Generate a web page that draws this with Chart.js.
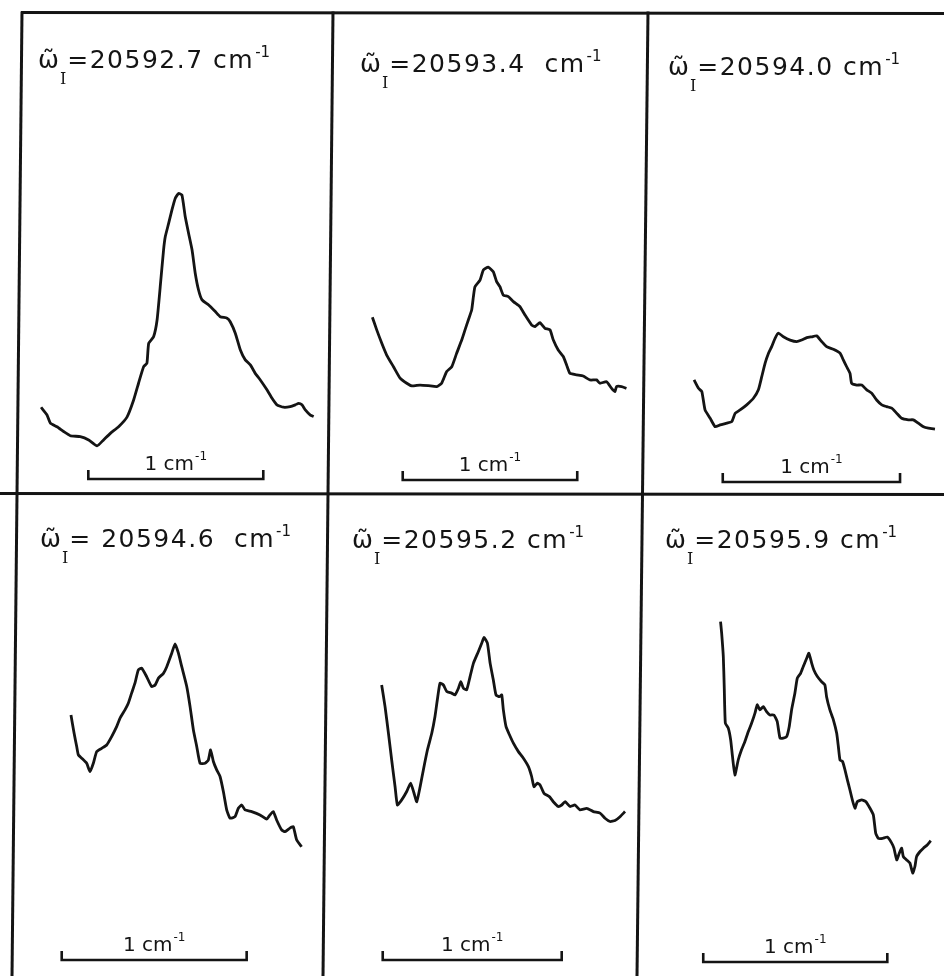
<!DOCTYPE html>
<html>
<head>
<meta charset="utf-8">
<script src="https://cdn.jsdelivr.net/npm/chart.js@4.4.1/dist/chart.umd.min.js"></script>
<style>
  body { margin: 0; background: #fff; }
  #page { position: relative; width: 944px; height: 976px; overflow: hidden; background: #fff; }
  .panel { position: absolute; }
  .rule { position: absolute; background: #141414; transform-origin: 0 50%; }
</style>
</head>
<body>
<div id="page"></div>
<script>
// laser frequency of each recording (cm-1)
const laserFreq = ['20592.7', '20593.4', '20594.0', '20594.6', '20595.2', '20595.9'];

// spectra: shift in cm-1 (0 = left end of the 1 cm-1 bar), intensity in arbitrary units
const shift1 = [-0.27, -0.236, -0.217, -0.179, -0.141, -0.103, -0.046, 0.002, 0.05, 0.087, 0.126, 0.173, 0.221, 0.259, 0.287, 0.316, 0.335, 0.345, 0.373, 0.393, 0.411, 0.43, 0.44, 0.459, 0.478, 0.497, 0.516, 0.535, 0.554, 0.573, 0.593, 0.611, 0.63, 0.65, 0.688, 0.726, 0.754, 0.793, 0.811, 0.84, 0.869, 0.897, 0.926, 0.954, 0.983, 1.021, 1.05, 1.078, 1.116, 1.154, 1.183, 1.202, 1.221, 1.24, 1.269, 1.288];
const inten1 = [20.9, 18.3, 15.6, 14.4, 12.8, 11.4, 11.1, 10.0, 8.0, 10.0, 12.2, 14.4, 17.6, 23.3, 28.9, 34.4, 35.6, 42.2, 44.4, 50, 61.1, 73.3, 77.8, 82.2, 86.7, 90.6, 92.2, 91.7, 84.4, 78.9, 73.3, 65.6, 60, 56.7, 55, 52.8, 51.1, 50.6, 49.4, 45.6, 40, 36.7, 35, 32.2, 30, 26.7, 23.9, 21.7, 20.9, 21.1, 21.7, 22.2, 21.7, 20, 18.3, 17.8];

const shift2 = [-0.174, -0.149, -0.12, -0.092, -0.053, -0.015, 0.023, 0.052, 0.099, 0.147, 0.195, 0.223, 0.252, 0.281, 0.309, 0.338, 0.357, 0.376, 0.395, 0.405, 0.414, 0.443, 0.462, 0.49, 0.519, 0.538, 0.557, 0.576, 0.605, 0.634, 0.672, 0.7, 0.739, 0.758, 0.786, 0.815, 0.844, 0.863, 0.891, 0.92, 0.939, 0.958, 0.996, 1.034, 1.073, 1.111, 1.13, 1.168, 1.197, 1.216, 1.225, 1.254, 1.282];
const inten2 = [50.9, 46.7, 42.2, 38.3, 34.4, 30.6, 28.9, 28.0, 28.3, 28.1, 27.8, 28.9, 32.8, 34.4, 38.9, 43.3, 46.7, 50, 53.3, 57.8, 61.1, 63.3, 66.7, 67.6, 66.1, 62.8, 61.1, 58.3, 57.8, 56.1, 54.4, 51.7, 48.3, 47.8, 49.1, 47.2, 46.7, 43.3, 40, 37.8, 35, 32.2, 31.7, 31.3, 30, 30, 28.9, 29.4, 27.2, 26.1, 27.8, 27.8, 27.2];

const shift3 = [-0.162, -0.137, -0.118, -0.1, -0.071, -0.043, -0.015, 0.023, 0.051, 0.07, 0.098, 0.135, 0.173, 0.201, 0.22, 0.239, 0.258, 0.276, 0.295, 0.314, 0.342, 0.38, 0.417, 0.445, 0.474, 0.502, 0.53, 0.558, 0.586, 0.624, 0.662, 0.68, 0.699, 0.718, 0.727, 0.756, 0.784, 0.812, 0.84, 0.868, 0.897, 0.925, 0.953, 0.981, 1.009, 1.047, 1.075, 1.103, 1.132, 1.16, 1.197];
const inten3 = [30, 27.2, 26.1, 20, 17.2, 14.4, 15, 15.6, 16.1, 18.9, 20, 21.7, 23.9, 26.7, 31.1, 35.6, 38.9, 41.1, 43.9, 45.6, 44.4, 43.3, 42.8, 43.3, 44.1, 44.4, 44.7, 42.8, 41.1, 40.2, 38.9, 36.7, 34.4, 32.2, 28.9, 28.3, 28.3, 26.7, 25.6, 23.3, 21.7, 21.1, 20.6, 18.9, 17.2, 16.7, 16.7, 15.6, 14.4, 13.9, 13.6];

const shift4 = [0.05, 0.067, 0.081, 0.09, 0.108, 0.135, 0.153, 0.171, 0.189, 0.216, 0.243, 0.27, 0.297, 0.315, 0.342, 0.36, 0.378, 0.396, 0.414, 0.432, 0.459, 0.486, 0.505, 0.523, 0.55, 0.568, 0.595, 0.613, 0.631, 0.649, 0.676, 0.694, 0.712, 0.73, 0.748, 0.775, 0.793, 0.805, 0.82, 0.838, 0.856, 0.874, 0.892, 0.91, 0.937, 0.955, 0.973, 0.991, 1.027, 1.072, 1.108, 1.126, 1.144, 1.162, 1.189, 1.207, 1.234, 1.252, 1.27, 1.297];
const inten4 = [78.3, 72.2, 67.8, 65, 63.9, 62.2, 59.4, 62.2, 66.1, 67.2, 68.3, 71.1, 74.4, 77.2, 80, 82.2, 85.6, 88.9, 93.3, 93.9, 91.1, 87.8, 88.3, 90.6, 92.2, 94.4, 98.9, 102, 98.9, 94.4, 87.8, 81.1, 73.3, 67.8, 62.2, 62.2, 63.3, 66.7, 62.8, 60, 57.8, 52.8, 46.7, 43.9, 44.4, 47.2, 48.3, 46.7, 46.1, 45, 43.6, 45, 46.1, 43.3, 40, 39.4, 40.6, 41.1, 36.7, 34.4];

const shift5 = [-0.006, 0.013, 0.032, 0.05, 0.069, 0.082, 0.106, 0.134, 0.156, 0.175, 0.19, 0.209, 0.227, 0.25, 0.274, 0.292, 0.305, 0.32, 0.339, 0.358, 0.385, 0.404, 0.423, 0.436, 0.451, 0.469, 0.488, 0.507, 0.534, 0.553, 0.566, 0.585, 0.6, 0.618, 0.633, 0.652, 0.665, 0.674, 0.689, 0.708, 0.73, 0.758, 0.786, 0.814, 0.832, 0.845, 0.864, 0.879, 0.901, 0.931, 0.953, 0.981, 1.0, 1.019, 1.047, 1.074, 1.102, 1.14, 1.177, 1.214, 1.242, 1.27, 1.298, 1.326, 1.354];
const inten5 = [88.3, 81.1, 72.2, 63.3, 54.4, 48.3, 50, 52.8, 55.6, 52.2, 49.4, 54.4, 60, 66.7, 72.2, 77.8, 83.3, 88.9, 88.3, 86.1, 85.6, 85, 87.2, 89.4, 87.2, 86.7, 91.1, 95.6, 99.4, 102.2, 104.2, 102.2, 95.6, 90, 85, 84.4, 85, 80, 74.4, 71.7, 68.9, 66.1, 63.9, 61.1, 57.8, 54.4, 55.6, 55, 52.2, 51.1, 49.4, 47.8, 48.3, 49.4, 47.8, 48.3, 46.7, 47.2, 46.1, 45.6, 43.9, 42.8, 43.1, 44.4, 46.1];

const shift6 = [0.094, 0.1, 0.109, 0.114, 0.12, 0.136, 0.149, 0.159, 0.172, 0.19, 0.208, 0.226, 0.245, 0.263, 0.281, 0.293, 0.308, 0.326, 0.344, 0.362, 0.384, 0.402, 0.417, 0.435, 0.453, 0.467, 0.48, 0.498, 0.511, 0.529, 0.543, 0.562, 0.574, 0.589, 0.601, 0.62, 0.643, 0.661, 0.67, 0.688, 0.707, 0.725, 0.734, 0.743, 0.757, 0.77, 0.783, 0.797, 0.81, 0.824, 0.837, 0.861, 0.884, 0.906, 0.924, 0.937, 0.951, 0.975, 1.0, 1.024, 1.036, 1.051, 1.065, 1.078, 1.087, 1.105, 1.123, 1.138, 1.15, 1.159, 1.178, 1.196, 1.217, 1.236];
const inten6 = [109.4, 105.6, 97.8, 87.8, 75.6, 73.9, 70, 64.4, 58.3, 63.3, 66.7, 69.4, 72.8, 75.6, 78.9, 81.7, 80, 81.1, 79.4, 78.3, 78.3, 76.1, 70.6, 70.6, 71.1, 74.4, 80, 85.6, 90.6, 92.2, 94.4, 97.2, 98.9, 95.6, 93.3, 91.1, 89.4, 88.3, 84.4, 80, 76.7, 72.2, 67.8, 63.3, 62.8, 60, 56.7, 53.3, 50, 47.2, 49.4, 50, 49.4, 47.2, 45, 38.9, 37.2, 37.2, 37.6, 35.6, 33.9, 30, 32.2, 33.9, 31.1, 30, 28.9, 25.6, 27.8, 31.1, 32.8, 33.9, 35, 36.4];

// 1 cm-1 calibration bar under each trace
const barStart = [0, 0, 0, 0, 0, 0];
const barLength = 1;

const shifts = [shift1, shift2, shift3, shift4, shift5, shift6];
const intens = [inten1, inten2, inten3, inten4, inten5, inten6];

// where each panel sits on the page and what part of the axes it shows
const panels = [
    { left: 22,  top: 12,  w: 309, h: 481, xMin: -0.379, xMax: 1.387, yMin: -7.7, yMax: 152.7, tx: 16, ty: 56, barGap: 14, gapEq: '',  gapCm: ' ' },
    { left: 331, top: 12,  w: 315, h: 481, xMin: -0.411, xMax: 1.394, yMin: -7.7, yMax: 152.7, tx: 29, ty: 60, barGap: 13, gapEq: '',  gapCm: '  ' },
    { left: 646, top: 12,  w: 298, h: 481, xMin: -0.433, xMax: 1.248, yMin: -7.7, yMax: 152.7, tx: 22, ty: 63, barGap: 11, gapEq: '',  gapCm: ' ' },
    { left: 14,  top: 493, w: 317, h: 483, xMin: -0.258, xMax: 1.456, yMin: -8.7, yMax: 152.3, tx: 26, ty: 54, barGap: 16, gapEq: ' ', gapCm: '  ' },
    { left: 331, top: 493, w: 315, h: 483, xMin: -0.289, xMax: 1.471, yMin: -8.7, yMax: 152.3, tx: 21, ty: 55, barGap: 16, gapEq: '',  gapCm: ' ' },
    { left: 646, top: 493, w: 298, h: 483, xMin: -0.311, xMax: 1.308, yMin: -8.7, yMax: 152.3, tx: 19, ty: 55, barGap: 14, gapEq: '',  gapCm: ' ' }
];

const INK = '#141414';

// omega-tilde sub I = value cm^-1
function drawTitle(ctx, p, freq) {
    const x = p.tx, y = p.ty;
    ctx.save();
    ctx.fillStyle = INK;
    ctx.textBaseline = 'alphabetic';
    ctx.font = '25px "DejaVu Sans"';
    ctx.fillText('\u03C9\u0303', x, y);
    let cx = x + ctx.measureText('\u03C9').width + 1;
    ctx.font = '16px "DejaVu Serif"';
    ctx.fillText('I', cx, y + 16);
    cx += ctx.measureText('I').width + 1;
    ctx.font = '25px "DejaVu Sans"';
    ctx.letterSpacing = '1.5px';
    const main = '=' + p.gapEq + freq + p.gapCm + 'cm';
    ctx.fillText(main, cx, y);
    cx += ctx.measureText(main).width;
    ctx.letterSpacing = '0px';
    ctx.font = '15px "DejaVu Sans"';
    ctx.fillText('-1', cx + 1, y - 11);
    ctx.restore();
}

function drawScaleBar(chart, i) {
    const ctx = chart.ctx;
    const p = panels[i];
    const xs = chart.scales.x;
    const x0 = xs.getPixelForValue(barStart[i]);
    const x1 = xs.getPixelForValue(barStart[i] + barLength);
    const yb = chart.chartArea.bottom - p.barGap;
    ctx.save();
    ctx.strokeStyle = INK;
    ctx.lineWidth = 2.6;
    ctx.beginPath();
    ctx.moveTo(x0, yb - 9);
    ctx.lineTo(x0, yb);
    ctx.lineTo(x1, yb);
    ctx.lineTo(x1, yb - 9);
    ctx.stroke();

    // "1 cm-1" label centred over the bar
    ctx.fillStyle = INK;
    ctx.textBaseline = 'alphabetic';
    ctx.font = '20px "DejaVu Sans"';
    const t = '1 cm';
    const w1 = ctx.measureText(t).width;
    ctx.font = '12px "DejaVu Sans"';
    const w2 = ctx.measureText('-1').width;
    const lx = (x0 + x1) / 2 - (w1 + w2 + 1) / 2;
    ctx.font = '20px "DejaVu Sans"';
    ctx.fillText(t, lx, yb - 9);
    ctx.font = '12px "DejaVu Sans"';
    ctx.fillText('-1', lx + w1 + 1, yb - 19);
    ctx.restore();
}

const page = document.getElementById('page');

panels.forEach((p, i) => {
    const box = document.createElement('div');
    box.className = 'panel';
    box.style.left = p.left + 'px';
    box.style.top = p.top + 'px';
    box.style.width = p.w + 'px';
    box.style.height = p.h + 'px';
    const canvas = document.createElement('canvas');
    canvas.width = p.w;
    canvas.height = p.h;
    box.appendChild(canvas);
    page.appendChild(box);

    new Chart(canvas.getContext('2d'), {
        type: 'line',
        data: {
            datasets: [{
                data: shifts[i].map((x, k) => ({ x: x, y: intens[i][k] })),
                borderColor: INK,
                borderWidth: 2.8,
                pointRadius: 0,
                tension: 0.15,
                fill: false
            }]
        },
        options: {
            responsive: false,
            animation: false,
            layout: { padding: 0 },
            plugins: {
                legend: { display: false },
                tooltip: { enabled: false }
            },
            scales: {
                x: { type: 'linear', min: p.xMin, max: p.xMax, display: false },
                y: { type: 'linear', min: p.yMin, max: p.yMax, display: false }
            }
        },
        plugins: [{
            id: 'panelDecor',
            afterDraw(chart) {
                drawTitle(chart.ctx, p, laserFreq[i]);
                drawScaleBar(chart, i);
            }
        }]
    });
});

// frame lines of the plate (slightly skewed like the scan)
function rule(x1, y1, x2, y2, t) {
    const d = document.createElement('div');
    d.className = 'rule';
    const len = Math.hypot(x2 - x1, y2 - y1);
    const ang = Math.atan2(y2 - y1, x2 - x1) * 180 / Math.PI;
    d.style.left = x1 + 'px';
    d.style.top = (y1 - t / 2) + 'px';
    d.style.width = len + 'px';
    d.style.height = t + 'px';
    d.style.transform = 'rotate(' + ang + 'deg)';
    page.appendChild(d);
}
rule(21, 12, 944, 13, 3);
rule(0, 493, 944, 494, 3);
rule(22, 11, 12, 976, 3);
rule(333, 11, 323, 976, 3);
rule(648, 11, 637, 976, 3);
</script>
</body>
</html>
